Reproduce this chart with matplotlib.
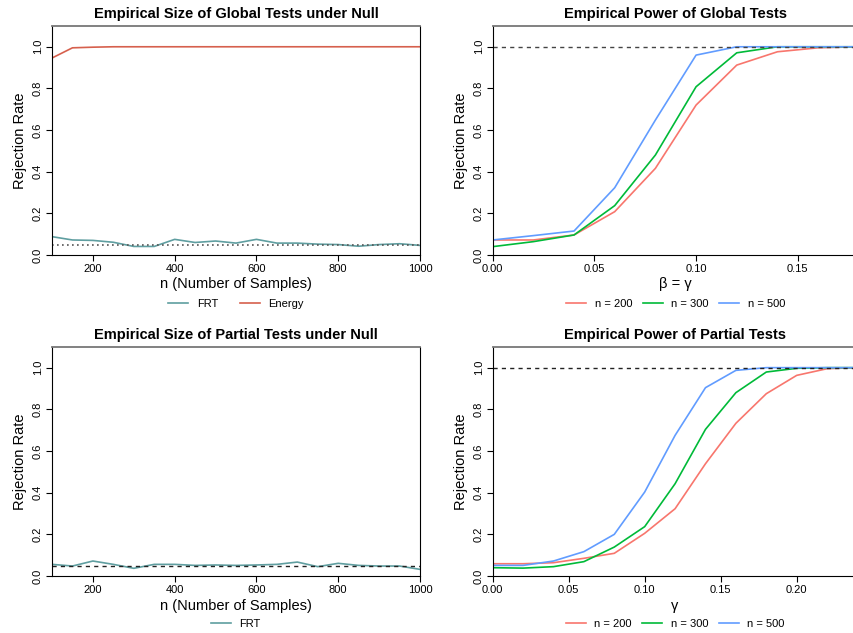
import matplotlib
matplotlib.use("Agg")
import matplotlib.pyplot as plt

plt.rcParams['font.family'] = ['Liberation Sans', 'DejaVu Sans']

# sample sizes for the size (null) simulations
n_grid = [100, 150, 200, 250, 300, 350, 400, 450, 500, 550,
          600, 650, 700, 750, 800, 850, 900, 950, 1000]

# global tests under the null
frt_global = [0.088, 0.072, 0.070, 0.061, 0.041, 0.041, 0.075, 0.060, 0.067, 0.057,
              0.075, 0.057, 0.057, 0.052, 0.050, 0.042, 0.050, 0.054, 0.046]
energy_global = [0.946, 0.995, 0.998, 1.0, 1.0, 1.0, 1.0, 1.0, 1.0, 1.0,
                 1.0, 1.0, 1.0, 1.0, 1.0, 1.0, 1.0, 1.0, 1.0]

# partial tests under the null
frt_partial = [0.056, 0.048, 0.072, 0.056, 0.037, 0.056, 0.056, 0.051, 0.053, 0.051,
               0.053, 0.056, 0.067, 0.045, 0.061, 0.051, 0.048, 0.048, 0.032]

# power of the global tests
beta_grid = [0.00, 0.02, 0.04, 0.06, 0.08, 0.10, 0.12, 0.14, 0.16, 0.18]
power_global = {
    "n = 200": [0.072, 0.072, 0.096, 0.208, 0.416, 0.720, 0.912, 0.976, 0.995, 1.0],
    "n = 300": [0.040, 0.064, 0.096, 0.237, 0.480, 0.808, 0.971, 1.0, 1.0, 1.0],
    "n = 500": [0.072, 0.093, 0.115, 0.323, 0.648, 0.960, 1.0, 1.0, 1.0, 1.0],
}

# power of the partial tests
gamma_grid = [0.00, 0.02, 0.04, 0.06, 0.08, 0.10, 0.12, 0.14, 0.16, 0.18, 0.20, 0.22, 0.24]
power_partial = {
    "n = 200": [0.059, 0.059, 0.064, 0.085, 0.109, 0.205, 0.323, 0.539, 0.733, 0.875, 0.963, 0.995, 1.0],
    "n = 300": [0.040, 0.038, 0.045, 0.069, 0.139, 0.237, 0.443, 0.704, 0.880, 0.979, 0.997, 1.0, 1.0],
    "n = 500": [0.051, 0.051, 0.072, 0.117, 0.200, 0.403, 0.675, 0.904, 0.987, 1.0, 1.0, 1.0, 1.0],
}

power_colors = {"n = 200": "#F8766D", "n = 300": "#00BA38", "n = 500": "#619CFF"}
frt_color = "#5F9EA0"
energy_color = "#D6604D"


def style_axes(ax, title, xlabel):
    ax.set_title(title, fontsize=10.5, fontweight='bold', pad=5.5)
    ax.set_xlabel(xlabel, fontsize=10.5, labelpad=2.5)
    ax.set_ylabel("Rejection Rate", fontsize=10.5, labelpad=4)
    ax.set_ylim(0, 1.1)
    ax.set_yticks([0.0, 0.2, 0.4, 0.6, 0.8, 1.0])
    ax.set_yticklabels(["0.0", "0.2", "0.4", "0.6", "0.8", "1.0"], rotation=90, va='center')
    ax.tick_params(labelsize=8, length=4, width=0.8, pad=2.5)
    ax.spines['top'].set_color('#777777')
    ax.spines['top'].set_linewidth(1.3)
    for side in ['left', 'bottom', 'right']:
        ax.spines[side].set_linewidth(0.8)


def add_legend(ax, y, colspace):
    ax.legend(loc='center', bbox_to_anchor=(0.5, y), ncol=3, frameon=False,
              fontsize=8, handlelength=1.8, handletextpad=0.75, columnspacing=colspace)


fig = plt.figure(figsize=(8.54, 6.33), dpi=100)

# top-left: global size
ax1 = fig.add_axes([0.0609, 0.5972, 0.4309, 0.3618])
ax1.plot(n_grid, frt_global, color=frt_color, lw=1.2, label="FRT")
ax1.plot(n_grid, energy_global, color=energy_color, lw=1.2, label="Energy")
ax1.axhline(0.05, color='#555555', ls=(0, (1, 2)), lw=1.2)
ax1.set_xlim(100, 1000)
ax1.set_xticks([200, 400, 600, 800, 1000])
style_axes(ax1, "Empirical Size of Global Tests under Null", "n (Number of Samples)")
add_legend(ax1, -0.214, 1.95)

# top-right: global power
ax2 = fig.add_axes([0.5769, 0.5972, 0.4287, 0.3618])
for lab, vals in power_global.items():
    ax2.plot(beta_grid, vals, color=power_colors[lab], lw=1.2, label=lab)
ax2.axhline(1.0, color='#444444', ls=(0, (3, 3)), lw=1.0)
ax2.set_xlim(0, 0.18)
ax2.set_xticks([0.00, 0.05, 0.10, 0.15])
ax2.set_xticklabels(["0.00", "0.05", "0.10", "0.15"])
style_axes(ax2, "Empirical Power of Global Tests", "β = γ")
add_legend(ax2, -0.214, 0.95)

# bottom-left: partial size
ax3 = fig.add_axes([0.0609, 0.0900, 0.4309, 0.3621])
ax3.plot(n_grid, frt_partial, color=frt_color, lw=1.2, label="FRT")
ax3.axhline(0.05, color='#222222', ls=(0, (3, 3)), lw=1.0)
ax3.set_xlim(100, 1000)
ax3.set_xticks([200, 400, 600, 800, 1000])
style_axes(ax3, "Empirical Size of Partial Tests under Null", "n (Number of Samples)")
add_legend(ax3, -0.209, 1.95)

# bottom-right: partial power
ax4 = fig.add_axes([0.5769, 0.0900, 0.4272, 0.3621])
for lab, vals in power_partial.items():
    ax4.plot(gamma_grid, vals, color=power_colors[lab], lw=1.2, label=lab)
ax4.axhline(1.0, color='#222222', ls=(0, (3, 3)), lw=1.0)
ax4.set_xlim(0, 0.24)
ax4.set_xticks([0.00, 0.05, 0.10, 0.15, 0.20])
ax4.set_xticklabels(["0.00", "0.05", "0.10", "0.15", "0.20"])
style_axes(ax4, "Empirical Power of Partial Tests", "γ")
add_legend(ax4, -0.209, 0.95)

fig.savefig("out.png", dpi=100)
